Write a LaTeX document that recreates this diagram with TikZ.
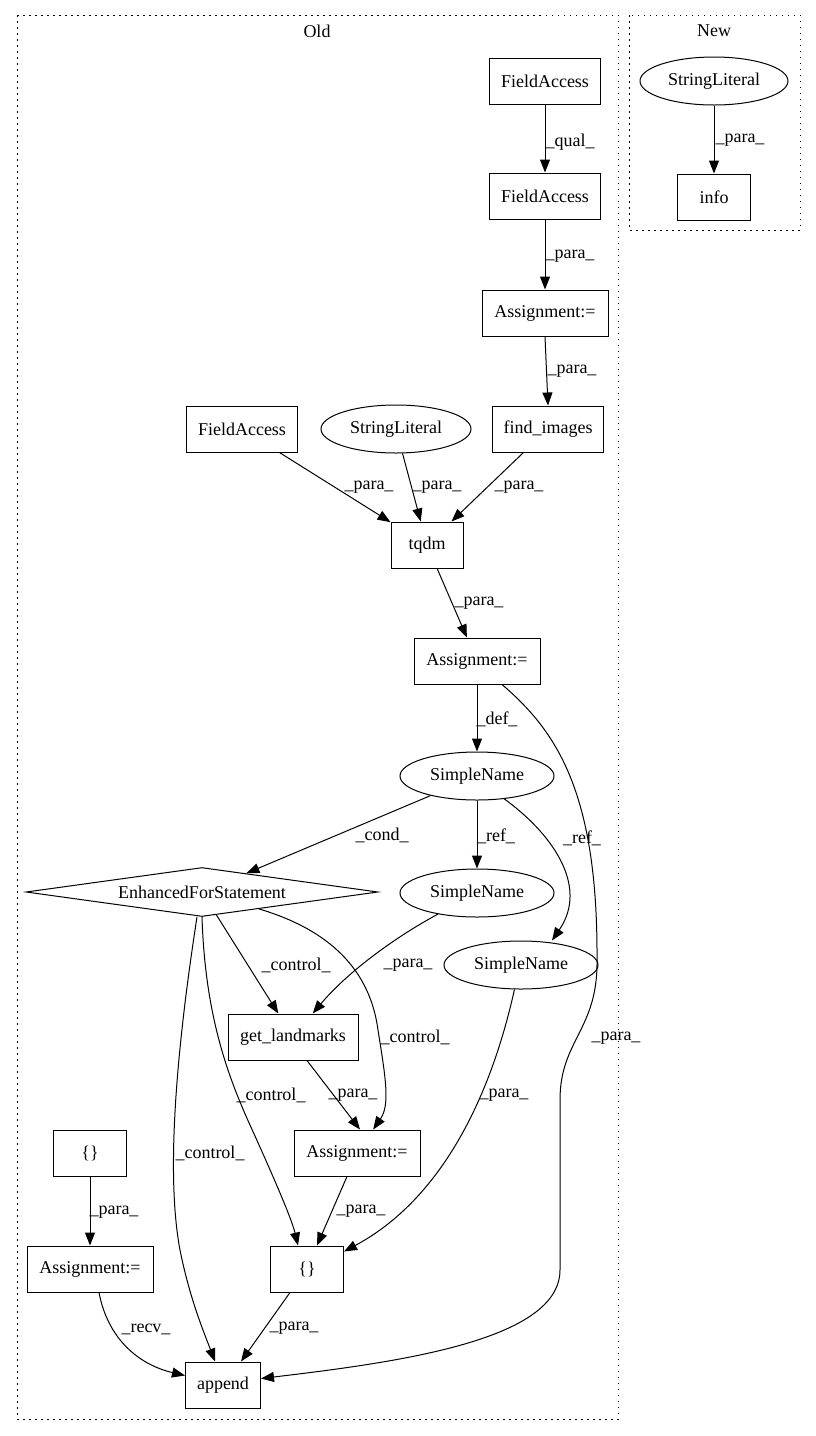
\documentclass[tikz,border=0pt]{standalone}
\usepackage{fontspec}
\setmainfont{Liberation Serif}
\usetikzlibrary{arrows.meta,shapes.geometric}
\begin{document}
\begin{tikzpicture}[x=1pt,y=-1pt,
  every node/.style={font=\fontsize{18}{22}\selectfont},
  boxnode/.style={draw,line width=1pt,rectangle,inner sep=0pt,minimum height=46pt},
  ellnode/.style={draw,line width=1pt,ellipse,inner sep=0pt,minimum height=48pt},
  dianode/.style={draw,line width=1pt,diamond,inner sep=0pt,aspect=7,minimum width=352pt,minimum height=49pt},
  edge/.style={draw,line width=1pt,-{Triangle[length=13pt,width=10pt]}},
  elabel/.style={inner sep=0pt},
  cluster/.style={draw,line width=1pt,dash pattern=on 1.5pt off 4.5pt}]
\useasboundingbox (0,0) rectangle (816,1436);
% clusters
\draw[cluster] (17,15) rectangle (618,1419);
\draw[cluster] (629,15) rectangle (800,230);
\node (oldlbl) at (317,31) {Old};
\node (newlbl) at (714,31) {New};
% nodes Old
\node[boxnode,minimum width=111pt] (fa1) at (545,81) {FieldAccess};
\node[boxnode,minimum width=111pt] (fa2) at (545,196) {FieldAccess};
\node[boxnode,minimum width=126pt] (as1) at (545,313) {Assignment:=};
\node[boxnode,minimum width=111pt] (fi) at (548,429) {find\_images};
\node[boxnode,minimum width=111pt] (fa3) at (242,429) {FieldAccess};
\node[ellnode,minimum width=150pt] (sl1) at (396,429) {StringLiteral};
\node[boxnode,minimum width=72pt] (tq) at (427,545) {tqdm};
\node[boxnode,minimum width=126pt] (as2) at (477,661) {Assignment:=};
\node[ellnode,minimum width=154pt] (sn1) at (477,776) {SimpleName};
\node[dianode] (efs) at (202,892) {EnhancedForStatement};
\node[ellnode,minimum width=154pt] (sn2) at (477,893) {SimpleName};
\node[ellnode,minimum width=154pt] (sn3) at (521,965) {SimpleName};
\node[boxnode,minimum width=130pt] (gl) at (293,1037) {get\_landmarks};
\node[boxnode,minimum width=126pt] (as3) at (357,1153) {Assignment:=};
\node[boxnode,minimum width=73pt] (cb1) at (90,1153) {\{\}};
\node[boxnode,minimum width=126pt] (as4) at (90,1269) {Assignment:=};
\node[boxnode,minimum width=73pt] (cb2) at (307,1269) {\{\}};
\node[boxnode,minimum width=75pt] (ap) at (223,1385) {append};
% nodes New
\node[ellnode,minimum width=148pt] (sl2) at (714,81) {StringLiteral};
\node[boxnode,minimum width=73pt] (info) at (714,197) {info};
% edges New
\draw[edge] (sl2) -- (info);
\node[elabel] (l0) at (740,140) {\_para\_};
% edges Old
\draw[edge] (fa1) -- (fa2);
\node[elabel] (l1) at (570,142) {\_qual\_};
\draw[edge] (fa2) -- (as1);
\node[elabel] (l2) at (570,256) {\_para\_};
\draw[edge] (as1.south) -- (fi.north);
\node[elabel] (l3) at (572,371) {\_para\_};
\draw[edge] (fa3) -- (tq);
\node[elabel] (l4) at (369,487) {\_para\_};
\draw[edge] (sl1) -- (tq);
\node[elabel] (l5) at (437,487) {\_para\_};
\draw[edge] (fi) -- (tq);
\node[elabel] (l6) at (519,487) {\_para\_};
\draw[edge] (tq) -- (as2);
\node[elabel] (l7) at (479,603) {\_para\_};
\draw[edge] (as2) -- (sn1);
\node[elabel] (l8) at (497,719) {\_def\_};
\draw[edge] ([xshift=25pt]as2.south) .. controls (555,730) and (598,790) .. (597,960)
  .. controls (598,1030) and (560,1040) .. (560,1100) -- (560,1270)
  .. controls (560,1340) and (400,1362) .. ([yshift=-17pt]ap.north east);
\node[elabel] (l9) at (616,1038) {\_para\_};
\draw[edge] (sn1) -- (efs);
\node[elabel] (l10) at (382,835) {\_cond\_};
\draw[edge] (sn1) -- (sn2);
\node[elabel] (l11) at (496,836) {\_ref\_};
\draw[edge] (sn1.-40) .. controls (550,832) and (590,885) .. ([xshift=31pt]sn3.north);
\node[elabel] (l12) at (582,838) {\_ref\_};
\draw[edge] (efs) -- (gl);
\node[elabel] (l13) at (296,965) {\_control\_};
\draw[edge] (sn2) .. controls (390,940) and (345,975) .. (gl);
\node[elabel] (l14) at (408,965) {\_para\_};
\draw[edge] (efs) .. controls (330,930) and (370,970) .. (378,1030)
  .. controls (386,1080) and (390,1105) .. (as3);
\node[elabel] (l15) at (415,1037) {\_control\_};
\draw[edge] ([xshift=14pt]gl.south) -- ([xshift=3pt]as3.north);
\node[elabel] (l16) at (353,1095) {\_para\_};
\draw[edge] (efs.south) .. controls (205,1010) and (225,1070) .. (250,1125)
  .. controls (275,1180) and (292,1220) .. ([xshift=-9pt]cb2.north);
\node[elabel] (l17) at (271,1095) {\_control\_};
\draw[edge] ([xshift=-5pt]efs.south) .. controls (178,1040) and (165,1170) .. (180,1250)
  .. controls (190,1300) and (205,1335) .. ([xshift=-8pt]ap.north);
\node[elabel] (l18) at (210,1153) {\_control\_};
\draw[edge] (sn3.-105) .. controls (490,1100) and (440,1200) .. ([yshift=-6pt]cb2.north east);
\node[elabel] (l19) at (504,1095) {\_para\_};
\draw[edge] ([xshift=-10pt]as3.south) -- ([xshift=10pt]cb2.north);
\node[elabel] (l20) at (361,1211) {\_para\_};
\draw[edge] (cb1) -- (as4);
\node[elabel] (l21) at (114,1212) {\_para\_};
\draw[edge] ([xshift=9pt]as4.south) .. controls (108,1340) and (140,1365) .. ([yshift=-14pt]ap.north west);
\node[elabel] (l22) at (146,1329) {\_recv\_};
\draw[edge] ([xshift=-17pt]cb2.south) -- ([xshift=18pt]ap.north);
\node[elabel] (l23) at (294,1328) {\_para\_};
\end{tikzpicture}
\end{document}
